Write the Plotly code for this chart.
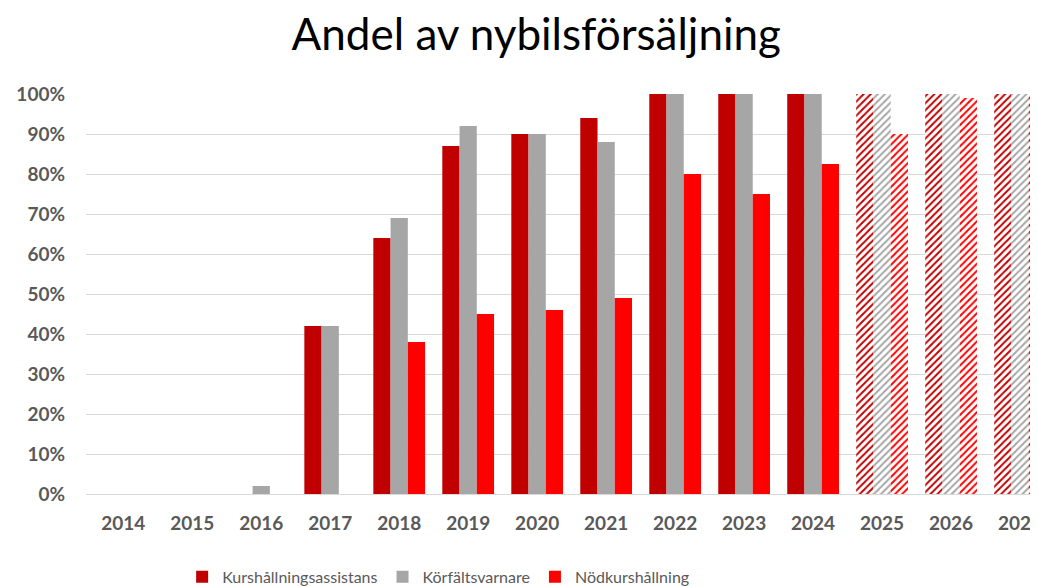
import plotly.graph_objects as go

years = ["2014", "2015", "2016", "2017", "2018", "2019", "2020",
         "2021", "2022", "2023", "2024", "2025", "2026", "2027"]
# andel i procent; 2025-2027 ar prognos (streckade staplar)
kurshallning = [0, 0, 0, 42, 64, 87, 90, 94, 100, 100, 100, 100, 100, 100]
korfalt = [0, 0, 2, 42, 69, 92, 90, 88, 100, 100, 100, 100, 100, 100]
nodkurs = [0, 0, 0, 0, 38, 45, 46, 49, 80, 75, 82.5, 90, 99, 100]
forecast = [y in ("2025", "2026", "2027") for y in years]

series = [
    ("Kurshållningsassistans", kurshallning, "#c00000"),
    ("Körfältsvarnare", korfalt, "#a6a6a6"),
    ("Nödkurshållning", nodkurs, "#ff0000"),
]

fig = go.Figure()
for name, vals, color in series:
    fig.add_trace(go.Bar(
        x=years,
        y=[v / 100 for v in vals],
        name=name,
        marker=dict(
            color=color,
            line=dict(width=0),
            pattern=dict(
                shape=["/" if f else "" for f in forecast],
                fgcolor=color,
                bgcolor="white",
                fillmode="replace",
                size=5,
                solidity=0.4,
            ),
        ),
    ))

font_family = "Lato, 'Open Sans', sans-serif"
# the page body adds an 8px offset, margins are set with that in mind
fig.update_layout(
    width=1038,
    height=587,
    margin=dict(l=78, r=8, t=86, b=101),
    paper_bgcolor="white",
    plot_bgcolor="white",
    barmode="group",
    bargap=0.25,
    bargroupgap=0,
    title=dict(
        text="Andel av nybilsförsäljning",
        x=0.473, xanchor="center", y=0.954, yanchor="middle",
        xref="paper",
        font=dict(family=font_family, size=44, color="black"),
    ),
    xaxis=dict(
        range=[-0.54, 13.26],
        automargin=False,
        showgrid=False,
        showline=True,
        linecolor="#d9d9d9",
        linewidth=1,
        ticks="",
        ticklabelstandoff=12,
        tickfont=dict(family=font_family, size=19, color="#595959", weight="bold"),
    ),
    yaxis=dict(
        range=[0, 1.0],
        automargin=False,
        tickformat=".0%",
        dtick=0.1,
        showgrid=True,
        gridcolor="#d9d9d9",
        gridwidth=1,
        zeroline=False,
        ticks="",
        ticklabelstandoff=20,
        tickfont=dict(family=font_family, size=19, color="#595959", weight="bold"),
    ),
    legend=dict(
        orientation="h",
        x=0.101, xanchor="left",
        yref="container",
        y=0.031, yanchor="middle",
        font=dict(family=font_family, size=16, color="#595959"),
        itemwidth=30,
        traceorder="normal",
    ),
)

fig.write_html("out.html")
